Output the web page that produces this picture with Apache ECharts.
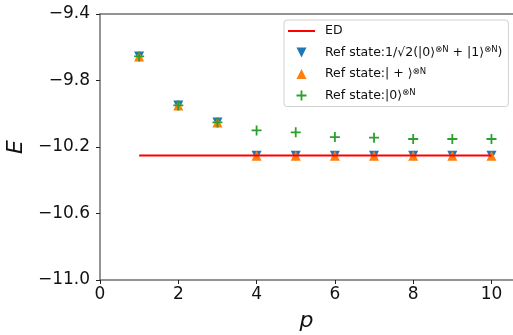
<!DOCTYPE html>
<html><head><meta charset="utf-8">
<script src="https://cdn.jsdelivr.net/npm/echarts@6/dist/echarts.min.js"></script>
<style>html,body{margin:0;padding:0;background:#fff}#c{width:513px;height:335px}</style>
</head><body><div id="c"></div>
<script>
const pValues = [1,2,3,4,5,6,7,8,9,10];
const edP = [1, 10];
const edValue = -10.2516;
const refGHZ  = [-9.655,-9.950,-10.052,-10.252,-10.252,-10.252,-10.252,-10.252,-10.252,-10.252];
const refPlus = [-9.655,-9.950,-10.052,-10.252,-10.252,-10.252,-10.252,-10.252,-10.252,-10.252];
const refZero = [-9.655,-9.950,-10.052,-10.100,-10.112,-10.140,-10.144,-10.152,-10.152,-10.152];
const xTicks = [0,2,4,6,8,10];
const yTicks = [-11.0,-10.6,-10.2,-9.8,-9.4];
const seriesNames = ['ED','ghz','plus','zero'];
const legendLabels = {
  ED: 'ED',
  ghz: 'Ref state:1/√2(|0⟩{s|⊗N} + |1⟩{s|⊗N})',
  plus: 'Ref state:| + ⟩{s|⊗N}',
  zero: 'Ref state:|0⟩{s|⊗N}'
};

const FONT = 'DejaVu Sans';
const downTri = 'path://M0,0L10,0L5,10Z';
const upTri = 'path://M5,0L10,10L0,10Z';
const plus = 'path://M4.1,0H5.9V4.1H10V5.9H5.9V10H4.1V5.9H0V4.1H4.1Z';
const lineIcon = 'path://M0,0H27V2H0Z';

const pair = (xs, ys) => xs.map((x, i) => [x, ys[i]]);
const fmtMinus = v => String(v.toFixed(1)).replace('-', '\u2212');

const chart = echarts.init(document.getElementById('c'), null, {renderer: 'canvas'});
chart.setOption({
  animation: false,
  backgroundColor: '#fff',
  textStyle: {fontFamily: FONT},
  grid: {left: 100, right: 0, top: 14, bottom: 55, containLabel: false, outerBoundsMode: 'none'},
  xAxis: [{
    type: 'value', min: 0, max: 10.55,
    axisLine: {show: true, lineStyle: {color: '#707070', width: 1.5}},
    axisTick: {show: true, length: 4, customValues: xTicks, lineStyle: {color: '#222', width: 1}},
    axisLabel: {customValues: xTicks, margin: 6, fontSize: 17, color: '#111', fontFamily: FONT},
    splitLine: {show: false},
    name: 'p', nameLocation: 'middle', nameGap: 30,
    nameTextStyle: {fontSize: 22, fontStyle: 'italic', color: '#111', fontFamily: FONT}
  }, {
    type: 'value', min: 0, max: 10.55, position: 'top',
    axisLine: {show: true, lineStyle: {color: '#707070', width: 1.5}},
    axisTick: {show: false}, axisLabel: {show: false}, splitLine: {show: false}
  }],
  yAxis: {
    type: 'value', min: -11.0, max: -9.4,
    axisLine: {show: true, lineStyle: {color: '#707070', width: 1.5}},
    axisTick: {show: true, length: 4, customValues: yTicks, lineStyle: {color: '#222', width: 1}},
    axisLabel: {customValues: yTicks, margin: 10, fontSize: 17, color: '#111', fontFamily: FONT, formatter: fmtMinus},
    splitLine: {show: false},
    name: 'E', nameLocation: 'middle', nameGap: 64,
    nameTextStyle: {fontSize: 22, fontStyle: 'italic', color: '#111', fontFamily: FONT}
  },
  legend: {
    orient: 'vertical', left: 284, top: 20,
    data: [
      {name: 'ED', icon: lineIcon},
      {name: 'ghz'}, {name: 'plus'}, {name: 'zero'}
    ],
    backgroundColor: '#fff', borderColor: '#d0d0d0', borderWidth: 1, borderRadius: 3,
    padding: [4, 6, 4, 4], itemGap: 7.5, itemWidth: 27, itemHeight: 10,
    formatter: n => legendLabels[n],
    textStyle: {fontSize: 12.5, color: '#111', fontFamily: FONT, lineHeight: 14, padding: [0,0,0,5],
      rich: {s: {fontSize: 8.5, verticalAlign: 'top', lineHeight: 14, fontFamily: FONT, color: '#111'}}}
  },
  series: [
    {name: 'ED', type: 'line', data: pair(edP, [edValue, edValue]), showSymbol: false, symbol: 'none',
     lineStyle: {color: '#ff0000', width: 2}, itemStyle: {color: '#ff0000'}, z: 10},
    {name: 'ghz', type: 'scatter', data: pair(pValues, refGHZ), symbol: downTri, symbolSize: 10,
     itemStyle: {color: '#1f77b4', opacity: 1}, z: 3},
    {name: 'plus', type: 'scatter', data: pair(pValues, refPlus), symbol: upTri, symbolSize: 10,
     itemStyle: {color: '#ff7f0e', opacity: 1}, z: 4},
    {name: 'zero', type: 'scatter', data: pair(pValues, refZero), symbol: plus, symbolSize: 10,
     itemStyle: {color: '#2ca02c', opacity: 1}, z: 5}
  ]
});
</script></body></html>
